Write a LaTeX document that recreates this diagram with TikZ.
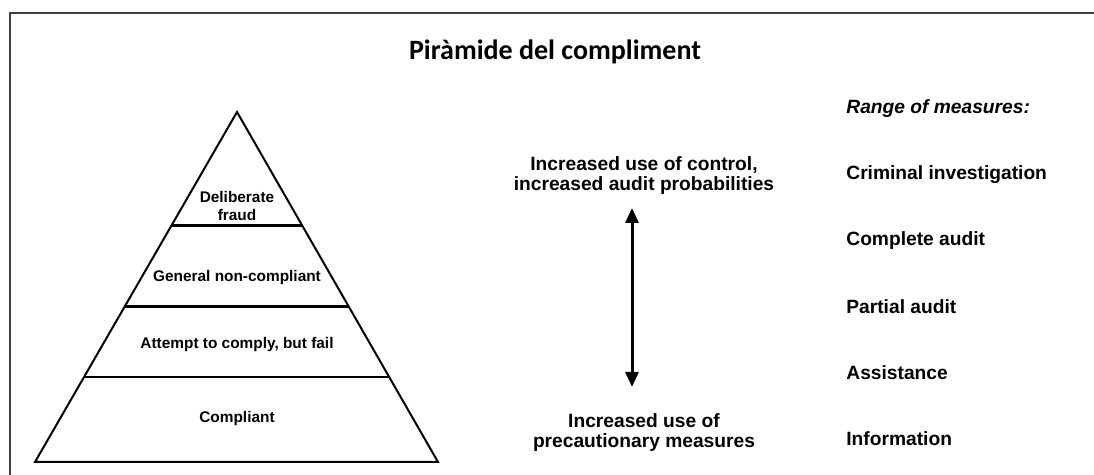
\documentclass[tikz,border=0pt]{standalone}
\usepackage{fontspec}
\setmainfont{Liberation Sans}
\newfontfamily\titlefont{Carlito}
\usepackage{tikz}
\usetikzlibrary{arrows.meta, calc}

\begin{document}
\begin{tikzpicture}[x=0.5pt, y=-0.5pt,
    every node/.style={inner sep=0pt},
    level/.style={font=\fontsize{7.7pt}{9pt}\selectfont\bfseries, align=center},
    effect/.style={font=\fontsize{9.6pt}{10pt}\selectfont\bfseries, align=center},
    measure/.style={anchor=west, font=\fontsize{9.6pt}{10pt}\selectfont\bfseries}]
        \useasboundingbox (0,0) rectangle (1094,475);

        % Frame
        \draw[black!75, line width=0.8pt] (10,475) -- (10,13) -- (1094,13);

        % Title
        \node (title) at (555,52) {\titlefont\fontsize{14pt}{16pt}\selectfont\bfseries Piràmide del compliment};

        % Pyramid
        \coordinate (apex) at (237,112);
        \coordinate (bl) at (35,462);
        \coordinate (br) at (438,462);
        \draw[line width=1pt, line join=miter] (apex) -- (bl) -- (br) -- cycle;
        \draw[line width=1.5pt] ($(apex)!0.323!(bl)$) -- ($(apex)!0.323!(br)$);
        \draw[line width=1.5pt] ($(apex)!0.557!(bl)$) -- ($(apex)!0.557!(br)$);
        \draw[line width=1pt] ($(apex)!0.757!(bl)$) -- ($(apex)!0.757!(br)$);

        % Levels
        \node[level] (fraud) at (237,206) {Deliberate\\fraud};
        \node[level] (noncomp) at (237,278) {General non-compliant};
        \node[level] (attempt) at (237,345) {Attempt to comply, but fail};
        \node[level] (comp) at (237,419) {Compliant};

        % Effects and arrow
        \node[effect] (control) at (644,176) {Increased use of control,\\increased audit probabilities};
        \node[effect] (precaution) at (644,433) {Increased use of\\precautionary measures};
        \coordinate (up) at (632,208);
        \coordinate (down) at (632,387);
        \draw[{Triangle[length=7.5pt,width=6.5pt]}-{Triangle[length=7.5pt,width=6.5pt]}, line width=1.5pt] (up) -- (down);

        % Range of measures
        \node[measure] (range) at (846,109) {\itshape Range of measures:};
        \node[measure] (criminal) at (846,175) {Criminal investigation};
        \node[measure] (complete) at (846,241) {Complete audit};
        \node[measure] (partial) at (846,307) {Partial audit};
        \node[measure] (assist) at (846,373) {Assistance};
        \node[measure] (info) at (846,439) {Information};
    \end{tikzpicture}
\end{document}
